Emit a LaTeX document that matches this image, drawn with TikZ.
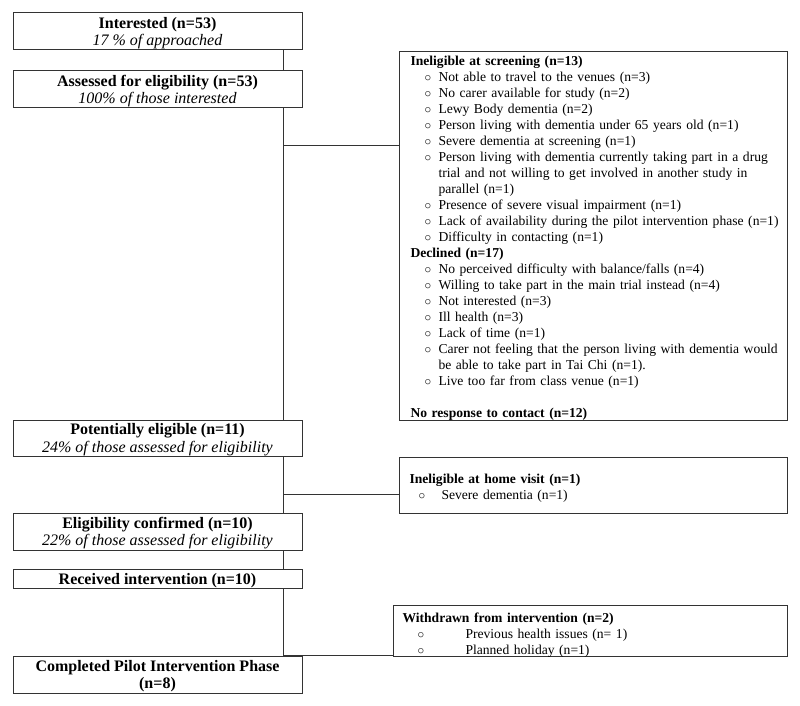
\documentclass[tikz,border=0pt]{standalone}
\usepackage{fontspec}
\setmainfont{Liberation Serif}
\setlength{\parindent}{0pt}
% bullet line: #1 bullet indent, #2 gap to text, #3 text
\newcommand{\exitem}[3]{\par\hangindent=\dimexpr#1+#2\relax\hspace*{#1}\makebox[#2][l]{$\circ$}#3}
\tikzset{
  stagebox/.style={draw=black!80, line width=0.75pt, minimum width=216.75pt, minimum height=27.75pt, inner sep=0pt, align=center, font=\fontsize{12}{13.2}\selectfont, text depth=-2.5pt},
  reasonbox/.style={draw=black!80, line width=0.75pt, anchor=north west, inner xsep=0pt, inner ysep=0pt, text width=291pt, align=left, font=\fontsize{10.2}{12}\selectfont},
  textdrop/.style={execute at end node={\par\kern-#1}},
  flow/.style={draw=black!80, line width=0.75pt}
}

\begin{document}
\begin{tikzpicture}[x=0.75pt,y=0.75pt,yscale=-1,xscale=1]
\useasboundingbox (0,0) rectangle (800,706);

%Shape: Rectangle
\node[stagebox] (interest) at (157.5,31.5) {\textbf{Interested (n=53)}\\\textit{17 \% of approached}};
%Shape: Rectangle
\node[stagebox] (assessed) at (157.5,89.5) {\textbf{Assessed for eligibility (n=53)}\\\textit{100\% of those interested}};
%Shape: Rectangle
\node[stagebox, minimum height=27pt] (potential) at (157.5,438) {\textbf{Potentially eligible (n=11)}\\\textit{24\% of those assessed for eligibility}};
%Shape: Rectangle
\node[stagebox] (confirmed) at (157.5,531.5) {\textbf{Eligibility confirmed (n=10)}\\\textit{22\% of those assessed for eligibility}};
%Shape: Rectangle
\node[stagebox, minimum height=14.25pt, text depth=0pt] (received) at (157.5,578.5) {\textbf{Received intervention (n=10)}};
%Shape: Rectangle
\node[stagebox] (completed) at (157.5,674.5) {\textbf{Completed Pilot Intervention Phase}\\\textbf{(n=8)}};

%Shape: Rectangle
\node[reasonbox, minimum height=276.75pt, textdrop=4pt, execute at begin node={\leftskip=8.25pt\relax}] (screening) at (399,51) {\textbf{Ineligible at screening (n=13)}
\exitem{10.5pt}{10.5pt}{Not able to travel to the venues (n=3)}
\exitem{10.5pt}{10.5pt}{No carer available for study (n=2)}
\exitem{10.5pt}{10.5pt}{Lewy Body dementia (n=2)}
\exitem{10.5pt}{10.5pt}{Person living with dementia under 65 years old (n=1)}
\exitem{10.5pt}{10.5pt}{Severe dementia at screening (n=1)}
\exitem{10.5pt}{10.5pt}{Person living with dementia currently taking part in a drug\newline trial and not willing to get involved in another study in\newline parallel (n=1)}
\exitem{10.5pt}{10.5pt}{Presence of severe visual impairment (n=1)}
\exitem{10.5pt}{10.5pt}{Lack of availability during the pilot intervention phase (n=1)}
\exitem{10.5pt}{10.5pt}{Difficulty in contacting (n=1)}
\par\textbf{Declined (n=17)}
\exitem{10.5pt}{10.5pt}{No perceived difficulty with balance/falls (n=4)}
\exitem{10.5pt}{10.5pt}{Willing to take part in the main trial instead (n=4)}
\exitem{10.5pt}{10.5pt}{Not interested (n=3)}
\exitem{10.5pt}{10.5pt}{Ill health (n=3)}
\exitem{10.5pt}{10.5pt}{Lack of time (n=1)}
\exitem{10.5pt}{10.5pt}{Carer not feeling that the person living with dementia would\newline be able to take part in Tai Chi (n=1).}
\exitem{10.5pt}{10.5pt}{Live too far from class venue (n=1)}
\par\vspace{12pt}\textbf{No response to contact (n=12)}};

%Shape: Rectangle
\node[reasonbox, minimum height=42pt, textdrop=4.5pt, execute at begin node={\leftskip=7.5pt\relax}] (homevisit) at (399,457) {\textbf{Ineligible at home visit (n=1)}
\exitem{6.75pt}{17.25pt}{Severe dementia (n=1)}};

%Shape: Rectangle
\node[reasonbox, text width=295.5pt, minimum height=38.25pt, textdrop=6pt, execute at begin node={\leftskip=6.75pt\relax}] (withdrawn) at (393,605) {\textbf{Withdrawn from intervention (n=2)}
\exitem{11.25pt}{36pt}{Previous health issues (n= 1)}
\exitem{11.25pt}{36pt}{Planned holiday (n=1)}};

%Straight Lines
\coordinate (trunk) at (283,0);
\coordinate (screenjoin) at (283,146);
\coordinate (homejoin) at (283,494);
\draw[flow] (interest.south -| trunk) -- (assessed.north -| trunk);
\draw[flow] (assessed.south -| trunk) -- (potential.north -| trunk);
\draw[flow] (screenjoin) -- (screenjoin -| screening.west);
\draw[flow] (potential.south -| trunk) -- (confirmed.north -| trunk);
\draw[flow] (homejoin) -- (homejoin -| homevisit.west);
\draw[flow] (confirmed.south -| trunk) -- (received.north -| trunk);
\draw[flow] (received.south -| trunk) -- (completed.north -| trunk);
\draw[flow] (completed.north -| trunk) -- (completed.north -| withdrawn.west);

\end{tikzpicture}
\end{document}
